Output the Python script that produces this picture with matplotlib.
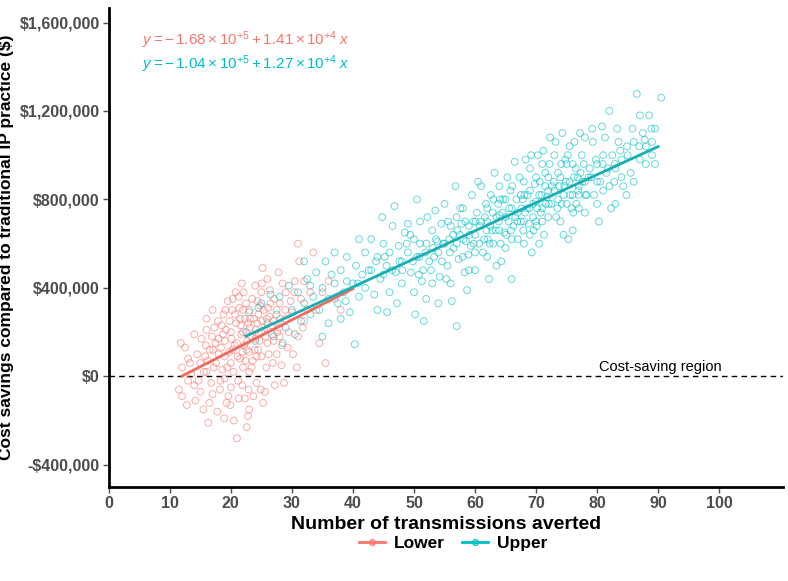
import matplotlib
matplotlib.use('Agg')
import matplotlib.pyplot as plt
from matplotlib.lines import Line2D
import numpy as np

plt.rcParams['font.family'] = ['Liberation Sans', 'DejaVu Sans']
plt.rcParams['mathtext.fontset'] = 'custom'
plt.rcParams['mathtext.rm'] = 'Liberation Sans'
plt.rcParams['mathtext.it'] = 'Liberation Sans:italic'

# points (x = transmissions averted, y = savings in $1000s)
lower_pts = [
    (11.5, -60), (12, 40), (12.5, 130), (13, -20), (13, 80), (12, -90), (14, 190), (14, -40),
    (13.5, 10), (14.5, 100), (11.8, 150), (12.8, -130), (14.2, -110),
    (15, 60), (15.5, -150), (16, 210), (16, 20), (16.5, 120), (17, -80), (17, 300), (15.2, 170),
    (16.8, -30), (15.8, 90), (17.2, 40), (16.3, -210), (17.5, 150), (15, -70), (16, 260), (17.8, -160),
    (18, 100), (18.5, 230), (19, -10), (19, 160), (19.5, 340), (20, 60), (20, 200), (18.2, -60),
    (18.8, 280), (19.3, -120), (20.3, 120), (20.5, -200), (19.8, 250), (18.6, 30), (20.8, 380),
    (18, 170), (19, 90), (20, -50), (20.2, 300), (19.6, -90),
    (21, 150), (21.5, 260), (22, 40), (22, 200), (22.5, 330), (23, 110), (23, -150), (21.2, -20),
    (21.8, 420), (22.3, -100), (22.8, 240), (23.3, 180), (21.5, 80), (22, 300), (23.5, 350),
    (21, -280), (22.6, -230), (23, 20), (21.7, 190), (22.2, 140), (23.8, 260), (21.3, 360),
    (22.9, -60), (22.4, 70),
    (24, 170), (24.5, 280), (25, 90), (25, 380), (25.5, 220), (26, 150), (26, 440), (24.2, -30),
    (24.8, 320), (25.3, -120), (25.8, 40), (26.3, 270), (24.5, 120), (25, 200), (26.5, 330),
    (24, 410), (25.6, -70), (26.8, 190), (24.3, 240), (25.2, 490),
    (27, 250), (27.5, 100), (28, 330), (28, 180), (28.5, 420), (29, 260), (27.2, -40), (27.8, 470),
    (28.3, 50), (29, 380), (29.5, 200), (27.5, 300), (28.7, -30), (29.3, 130), (27, 160),
    (30, 290), (30.5, 430), (31, 180), (31.5, 350), (32, 250), (32.5, 300), (30.2, 100),
    (31.2, 520), (33, 380), (30.8, 40), (32, 430), (31.8, 220), (31, 600),
    (34, 300), (35, 380), (34.5, 150), (36, 430), (37, 350), (35.5, 60), (38, 300), (33.5, 560),
    (16.5, -120), (17.3, 220), (18.3, -20), (19.2, 210), (20.6, 140), (21.4, 310), (22.7, 160),
    (23.6, 70), (24.6, 190), (25.4, 300), (26.2, 100), (20.4, 20), (19.7, 110), (21.9, -40),
    (23.2, 260), (22.1, 380), (24.9, -60), (18.7, 190), (17.6, 60), (15.6, 20), (14.7, -20),
    (13.3, 60), (26.7, 230), (27.6, 200), (28.9, 300), (23.9, 120), (25.9, 260), (20.9, 240),
    (19.4, 40), (20.1, 170), (21.1, 90), (21.6, 230), (22.3, 260), (23.1, 300), (24.1, 210),
    (24.7, 160), (25.1, 250), (26.1, 310), (27.1, 350), (28.1, 260), (18.4, 130), (17.9, 250),
    (16.9, 180), (16.2, 70), (20.7, 280), (22.6, 120), (23.4, 40), (24.4, 340), (25.7, 180),
    (26.9, 60), (19.9, -130), (21.3, -100), (22.8, -180), (18.9, -190), (23.7, -90), (20.3, 350),
    (21.9, 110), (23.1, 220), (24.2, 90), (19.1, 300), (17.1, 120), (15.9, 140), (27.9, 220),
    (29.8, 340), (30.4, 380), (28.4, 140), (26.4, 390), (25.1, 420),
]

upper_pts = [
    (22.5, 200), (23, 290), (24, 160), (25, 330), (26, 240), (27, 180), (27.5, 280), (28, 360),
    (29, 220), (29.5, 410), (30, 300), (30.5, 190), (28.5, 150), (26.5, 370), (24.5, 310),
    (31, 380), (31.5, 250), (32, 330), (32.5, 440), (33, 280), (33.5, 360), (34, 470), (34.5, 300),
    (35, 400), (35.5, 520), (36, 350), (36, 240), (33, 410), (35, 180), (32, 520),
    (37, 420), (37.5, 330), (38, 480), (38.5, 380), (39, 540), (39.5, 290), (40, 420), (40.3, 145),
    (40.5, 500), (41, 360), (41.5, 460), (42, 560), (42, 400), (38, 260), (41, 620), (39, 430), (37, 560),
    (43, 480), (43.5, 370), (44, 540), (44.5, 440), (45, 600), (45.5, 500), (46, 380), (46, 560),
    (46.5, 680), (47, 470), (47.5, 590), (48, 420), (48, 520), (43, 620), (44, 300), (45, 460),
    (46.8, 770), (47.2, 330), (48.5, 650), (44.8, 720), (45.6, 290),
    (49, 560), (49.5, 470), (50, 620), (50, 380), (50.5, 540), (51, 700), (51.6, 250), (51.5, 480),
    (52, 600), (52.5, 520), (53, 660), (53, 420), (53.5, 750), (54, 560), (54, 330), (49, 690),
    (50.5, 800), (51, 600), (52, 350), (52.8, 480), (53.8, 610), (49.8, 520), (51.3, 430),
    (54.5, 690), (50.2, 280), (52.2, 720), (53.3, 540), (54.2, 450),
    (55, 600), (55.5, 500), (56, 680), (56, 420), (56.5, 580), (57, 227), (57, 720), (57.5, 640),
    (58, 540), (58, 760), (58.5, 610), (59, 680), (59, 480), (59.5, 820), (60, 640), (60, 560),
    (55, 780), (56.2, 340), (57.3, 530), (58.7, 390), (59.3, 590), (60.3, 740), (55.8, 620),
    (57.8, 690), (56.8, 860), (58.3, 470), (59.7, 700), (60.5, 880), (55.3, 440), (57, 600),
    (58.9, 550), (60, 480),
    (61, 700), (61.5, 620), (62, 760), (62, 540), (62.5, 680), (63, 800), (63, 600), (63.5, 720),
    (64, 660), (64, 860), (64.5, 740), (65, 580), (65, 800), (65.5, 700), (66, 760), (66, 620),
    (61, 860), (62.3, 440), (63.2, 920), (64.3, 520), (65.3, 900), (66.3, 680), (61.8, 780),
    (62.8, 660), (63.8, 780), (64.8, 650), (65.8, 840), (66.5, 970), (61.3, 560), (62, 700),
    (63.5, 500), (65, 720), (66, 440), (64, 730), (62.6, 820),
    (67, 740), (67.5, 820), (68, 700), (68, 880), (68.5, 760), (69, 640), (69, 840), (69.5, 780),
    (70, 900), (70, 700), (70.5, 820), (71, 760), (71, 960), (71.5, 860), (72, 720), (72, 900),
    (67, 620), (68.3, 980), (69.3, 560), (70.3, 1000), (71.3, 640), (72.3, 1080), (67.8, 800),
    (68.8, 690), (69.8, 870), (70.8, 740), (71.8, 810), (67.3, 900), (68, 600), (69, 940),
    (70, 790), (71, 700), (72, 840), (67.5, 700), (69.5, 720), (70.5, 600), (71.5, 920), (72.5, 780),
    (73, 840), (73.5, 760), (74, 900), (74, 700), (74.5, 820), (75, 960), (75, 780), (75.5, 880),
    (76, 820), (76, 660), (76.5, 940), (77, 860), (77, 760), (77.5, 1000), (78, 880), (78, 740),
    (73, 1000), (74.3, 1100), (75.3, 620), (76.3, 1060), (77.3, 920), (78.3, 820), (73.8, 860),
    (74.8, 980), (75.8, 760), (76.8, 900), (77.8, 960), (73.3, 720), (74.5, 640), (75.5, 1040),
    (76, 960), (77, 820), (78, 1080), (73.6, 920),
    (79, 900), (79.5, 820), (80, 960), (80, 780), (80.5, 880), (81, 1000), (81, 840), (81.5, 920),
    (82, 1200), (82, 860), (82.5, 1000), (83, 940), (83, 780), (83.5, 1060), (84, 900), (84, 980),
    (79.3, 1060), (80.3, 700), (81.3, 1080), (82.3, 760), (83.3, 1120), (84.3, 860), (79.8, 980),
    (80.8, 1130), (81.8, 940), (82.8, 880), (83.8, 1020), (80, 880),
    (85, 1000), (85.5, 920), (86, 1060), (86.5, 1277), (87, 980), (87.5, 1100), (88, 1040),
    (88.5, 1180), (89, 1000), (89.5, 1120), (90.5, 1260), (86, 880), (87, 1180), (88, 960),
    (89, 1060), (84.8, 820), (85.8, 1120), (87.8, 1070), (89.5, 960),
    (56.4, 640), (57.6, 760), (58.4, 700), (59.1, 640), (60.7, 600), (61.6, 720), (62.4, 600),
    (63.4, 660), (64.6, 800), (65.6, 760), (66.6, 720), (67.6, 760), (68.6, 820), (69.6, 660),
    (70.6, 880), (71.6, 780), (72.6, 860), (73.6, 800), (74.6, 860), (75.6, 820), (76.6, 780),
    (77.6, 880), (78.6, 900), (64.2, 600), (66.8, 800), (68.2, 740), (70.2, 760), (72.2, 960),
    (74.2, 780), (76.2, 900), (53.6, 620), (54.6, 520), (55.6, 700), (50.8, 460), (48.8, 600),
    (47.6, 520), (45.2, 540), (42.6, 480), (60.8, 680), (62.9, 740), (65.9, 660), (67.9, 660),
    (36.5, 460), (38.8, 340), (40.8, 420), (43.8, 520), (46.4, 480), (49.4, 640), (51.9, 560),
    (54.8, 600), (57.1, 660), (59.8, 600), (61.9, 660), (63.9, 700), (65.1, 640), (66.9, 700),
    (68.9, 760), (70.9, 820), (72.9, 880), (74.9, 880), (76.9, 840), (78.8, 940), (80.9, 960),
    (82.9, 960), (84.9, 1040), (86.9, 1040), (88.9, 1120), (58.1, 620), (60.1, 700), (62.1, 620),
    (64.1, 800), (66.1, 860), (68.1, 820), (70.1, 680), (72.1, 780), (74.1, 960), (76.1, 740),
    (78.1, 820), (55.9, 560), (53.1, 580), (50.9, 540), (48.1, 480), (69.2, 1000), (71.2, 1020),
    (73.2, 1060), (75.2, 1000), (77.2, 1100), (79.2, 1120),
]

# fitted lines from the annotations
lower_fit = (-1.68e5, 1.41e4)
upper_fit = (-1.04e5, 1.27e4)
lower_range = (12, 40)
upper_range = (22.5, 90)

c_low = '#F8766D'
c_up = '#00BFC4'
c_low_line = '#EE6B62'
c_up_line = '#1AADB3'
tick_col = '#4D4D4D'

fig = plt.figure(figsize=(7.88, 5.81), dpi=100)
ax = fig.add_axes([0.138, 0.162, 0.856, 0.824])

lx, ly = np.array(lower_pts).T
ux, uy = np.array(upper_pts).T
ax.scatter(ux, uy * 1000, s=24, facecolors='none', edgecolors=c_up, linewidths=0.7, alpha=0.6, zorder=2)
ax.scatter(lx, ly * 1000, s=24, facecolors='none', edgecolors=c_low, linewidths=0.7, alpha=0.6, zorder=2)

xs = np.array(lower_range)
ax.plot(xs, lower_fit[0] + lower_fit[1] * xs, color=c_low_line, lw=2, zorder=3)
xs = np.array(upper_range)
ax.plot(xs, upper_fit[0] + upper_fit[1] * xs, color=c_up_line, lw=2, zorder=4)

ax.axhline(0, color='black', lw=1, ls=(0, (4, 3)), zorder=1)
ax.text(80.3, 12000, 'Cost-saving region', fontsize=10.5, color='black', va='bottom', ha='left')

ax.text(5.5, 1.52e6, r'$y = -\,1.68\times10^{+5} + 1.41\times10^{+4}\;x$', color=c_low,
        fontsize=11, va='center')
ax.text(5.5, 1.41e6, r'$y = -\,1.04\times10^{+5} + 1.27\times10^{+4}\;x$', color=c_up,
        fontsize=11, va='center')

ax.set_xlim(0, 110.5)
ax.set_ylim(-5.0e5, 1.665e6)
ax.set_xticks(range(0, 101, 10))
yt = [-400000, 0, 400000, 800000, 1200000, 1600000]
ax.set_yticks(yt)
ax.set_yticklabels(['-$400,000' if v < 0 else '${:,}'.format(v) for v in yt])

for s in ['top', 'right']:
    ax.spines[s].set_visible(False)
for s in ['left', 'bottom']:
    ax.spines[s].set_linewidth(2)
ax.tick_params(axis='both', length=4, width=1, pad=2.5, color=tick_col, labelcolor=tick_col, labelsize=11.5)
for lab in ax.get_xticklabels() + ax.get_yticklabels():
    lab.set_fontweight('bold')

ax.set_xlabel('Number of transmissions averted', fontsize=14, fontweight='bold', labelpad=4)
ax.set_ylabel('Cost savings compared to traditional IP practice ($)', fontsize=12.5, fontweight='bold',
              labelpad=4)

handles = [
    Line2D([], [], color=c_low, lw=2, marker='o', mfc='none', ms=4),
    Line2D([], [], color=c_up, lw=2, marker='o', mfc='none', ms=4),
]
leg = fig.legend(handles, ['Lower', 'Upper'], loc='center', bbox_to_anchor=(0.575, 0.065), ncol=2,
                 frameon=False, handlelength=1.5, columnspacing=1.0, handletextpad=0.5,
                 prop={'weight': 'bold', 'size': 12.5})

fig.savefig('out.png', dpi=100)
